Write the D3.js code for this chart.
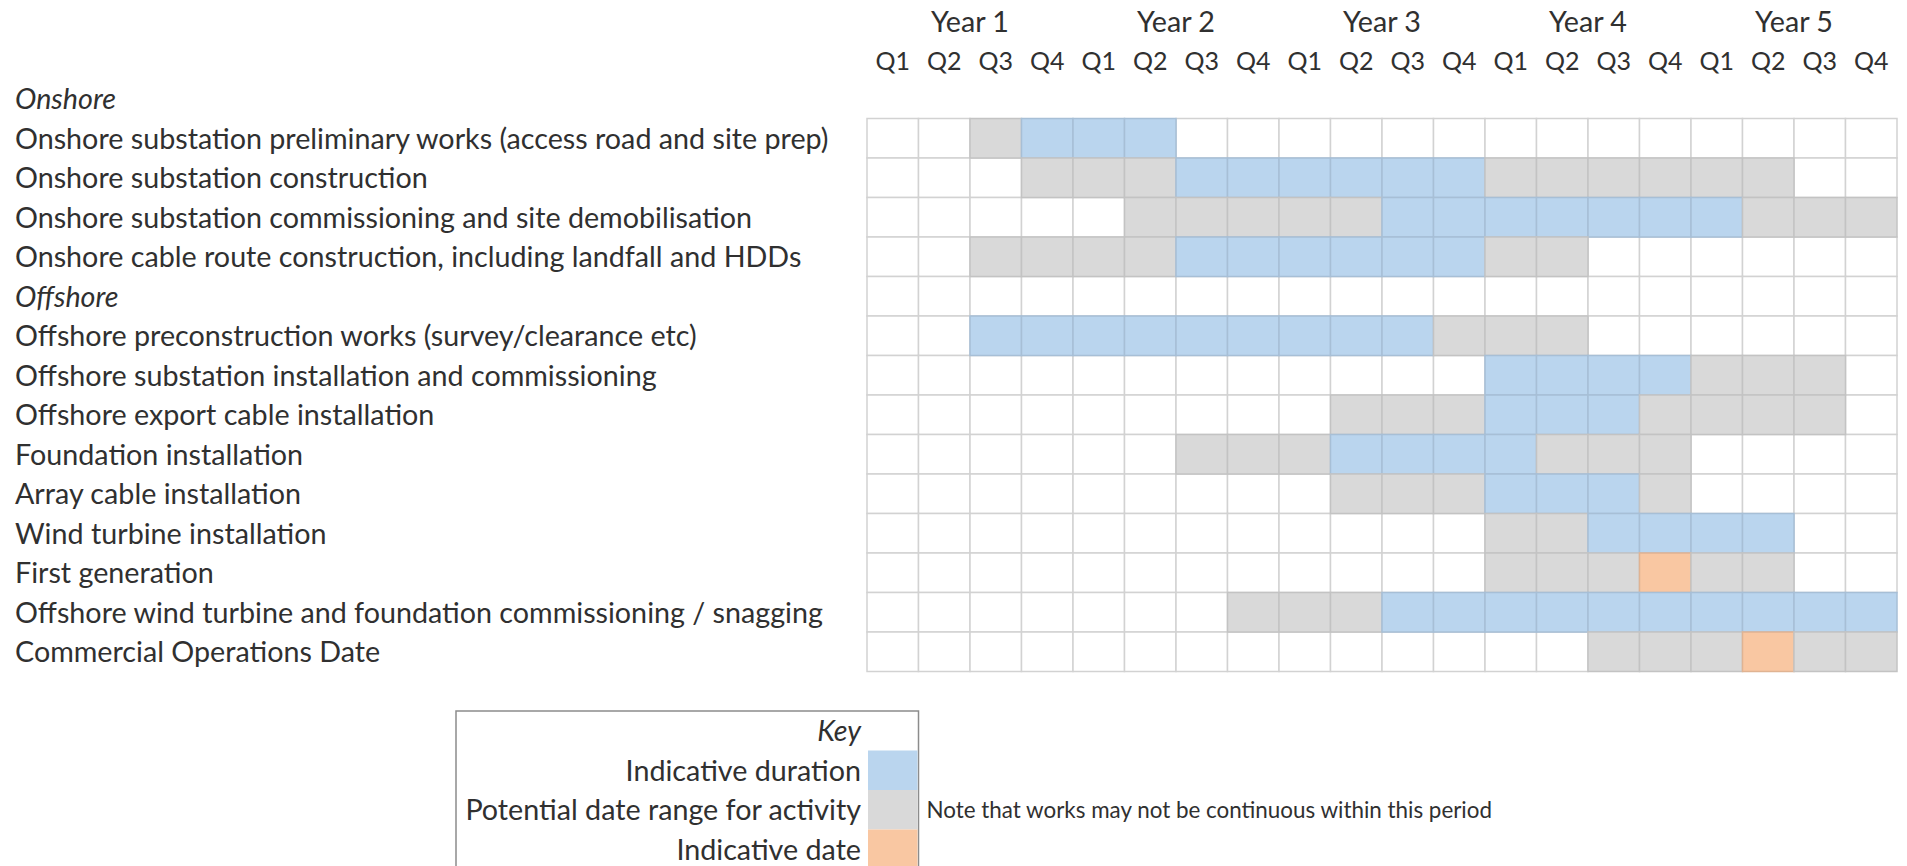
<!DOCTYPE html>
<meta charset="utf-8">
<style>
  body { margin: 0; background: #fff; }
  text { font-family: Lato, "Open Sans", sans-serif; fill: #303030; }
</style>
<svg width="1907" height="866"></svg>
<script src="https://d3js.org/d3.v7.min.js"></script>
<script>

var years = ["Year 1", "Year 2", "Year 3", "Year 4", "Year 5"],
    quarters = ["Q1", "Q2", "Q3", "Q4"];

var tasks = [
  "Onshore",
  "Onshore substation preliminary works (access road and site prep)",
  "Onshore substation construction",
  "Onshore substation commissioning and site demobilisation",
  "Onshore cable route construction, including landfall and HDDs",
  "Offshore",
  "Offshore preconstruction works (survey/clearance etc)",
  "Offshore substation installation and commissioning",
  "Offshore export cable installation",
  "Foundation installation",
  "Array cable installation",
  "Wind turbine installation",
  "First generation",
  "Offshore wind turbine and foundation commissioning / snagging",
  "Commercial Operations Date"
];
var sectionHeaders = ["Onshore", "Offshore"];

// quarter index 0..19 (Year 1 Q1 .. Year 5 Q4), inclusive ranges
var potentialRange = [null, [2, 5], [3, 17], [5, 19], [2, 13], null, [2, 13], [12, 18],
                      [9, 18], [6, 15], [9, 15], [12, 17], [12, 17], [7, 19], [14, 19]];
var indicativeDuration = [null, [3, 5], [6, 11], [10, 16], [6, 11], null, [2, 10], [12, 15],
                          [12, 14], [9, 12], [12, 14], [14, 17], null, [10, 19], null];
var indicativeDate = [null, null, null, null, null, null, null, null,
                      null, null, null, null, 15, null, 17];

var keyItems = ["Indicative duration", "Potential date range for activity", "Indicative date"],
    keyNote = "Note that works may not be continuous within this period";

var colors = { duration: "#bad5ee", potential: "#d9d9d9", date: "#f9c7a2", none: "#ffffff" };

var svg = d3.select("svg"),
    fontSize = 28.7;

var periods = d3.range(years.length * quarters.length);

var x = d3.scaleBand().domain(periods).range([867, 1897]);
var y = d3.scaleBand().domain(d3.range(tasks.length)).range([79, 671.5]);
var step = y.step();

function inRange(r, c) { return r && c >= r[0] && c <= r[1]; }

function cellState(r, c) {
  if (indicativeDate[r] === c) return "date";
  if (inRange(indicativeDuration[r], c)) return "duration";
  if (inRange(potentialRange[r], c)) return "potential";
  return "none";
}

// grid cells (row 0 "Onshore" sits above the grid)
var cells = [];
d3.range(1, tasks.length).forEach(function(r) {
  periods.forEach(function(c) { cells.push({ r: r, c: c, s: cellState(r, c) }); });
});
cells.sort(function(a, b) { return (a.s !== "none") - (b.s !== "none"); });

svg.append("g").selectAll("rect")
  .data(cells)
  .join("rect")
    .attr("x", function(d) { return x(d.c); })
    .attr("y", function(d) { return y(d.r); })
    .attr("width", x.bandwidth())
    .attr("height", y.bandwidth())
    .attr("fill", function(d) { return colors[d.s]; })
    .attr("stroke", function(d) {
      return d.s === "none" ? "#d2d2d2" : d3.color(colors[d.s]).darker(0.3);
    })
    .attr("stroke-width", 1.5);

// row labels
svg.append("g").selectAll("text")
  .data(tasks)
  .join("text")
    .attr("x", 15)
    .attr("y", function(d, i) { return y(i) + y.bandwidth() / 2; })
    .attr("dy", "0.36em")
    .attr("font-size", fontSize)
    .attr("font-style", function(d) { return sectionHeaders.indexOf(d) >= 0 ? "italic" : null; })
    .text(function(d) { return d; });

// year + quarter headers
svg.append("g").selectAll("text")
  .data(years)
  .join("text")
    .attr("x", function(d, i) { return (x(i * 4) + x(i * 4 + 3) + x.bandwidth()) / 2; })
    .attr("y", 22)
    .attr("dy", "0.36em")
    .attr("text-anchor", "middle")
    .attr("font-size", fontSize)
    .text(function(d) { return d; });

svg.append("g").selectAll("text")
  .data(periods)
  .join("text")
    .attr("x", function(d) { return x(d) + x.bandwidth() / 2; })
    .attr("y", 61)
    .attr("dy", "0.36em")
    .attr("text-anchor", "middle")
    .attr("font-size", 25)
    .text(function(d) { return quarters[d % 4]; });

// key
var keyTop = y.range()[1] + step,
    swX = x(0), swW = x.bandwidth();

svg.append("rect")
  .attr("x", 456)
  .attr("y", keyTop)
  .attr("width", swX + swW - 456)
  .attr("height", 200)
  .attr("fill", "none")
  .attr("stroke", "#8c8c8c")
  .attr("stroke-width", 1.5);

svg.append("text")
  .attr("x", swX - 6)
  .attr("y", keyTop + step / 2)
  .attr("dy", "0.36em")
  .attr("text-anchor", "end")
  .attr("font-size", fontSize)
  .attr("font-style", "italic")
  .text("Key");

var keyColors = [colors.duration, colors.potential, colors.date];
var key = svg.append("g").selectAll("g")
  .data(keyItems)
  .join("g")
    .attr("transform", function(d, i) { return "translate(0," + (keyTop + step * (i + 1)) + ")"; });

key.append("rect")
  .attr("x", swX + 1)
  .attr("width", swW - 2)
  .attr("height", step)
  .attr("fill", function(d, i) { return keyColors[i]; });

key.append("text")
  .attr("x", swX - 6)
  .attr("y", step / 2)
  .attr("dy", "0.36em")
  .attr("text-anchor", "end")
  .attr("font-size", fontSize)
  .text(function(d) { return d; });

svg.append("text")
  .attr("x", swX + swW + 8)
  .attr("y", keyTop + step * 2.5)
  .attr("dy", "0.36em")
  .attr("font-size", 22.4)
  .text(keyNote);

</script>
